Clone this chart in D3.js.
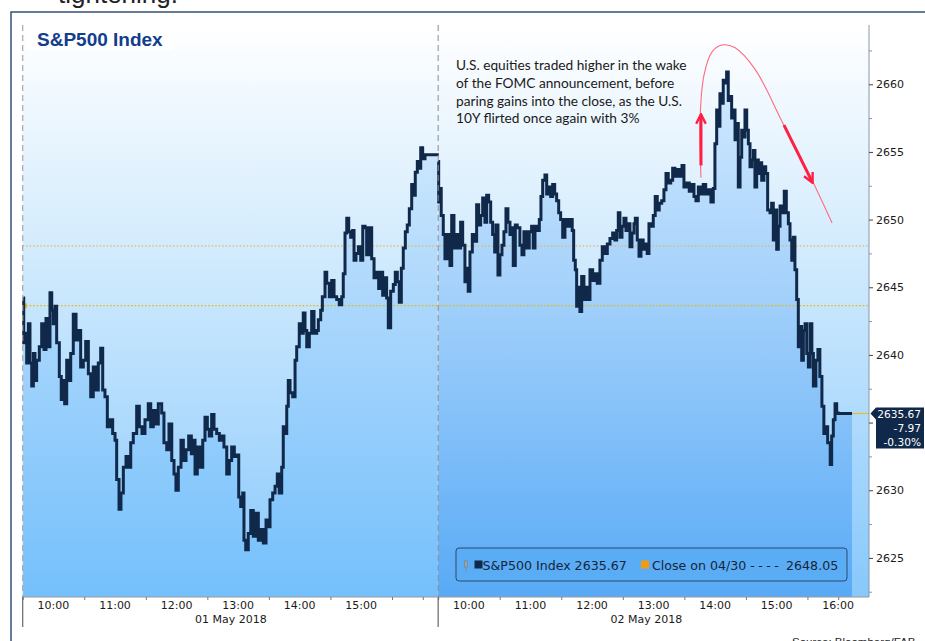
<!DOCTYPE html>
<html>
<head>
<meta charset="utf-8">
<script src="https://cdn.jsdelivr.net/npm/d3@7/dist/d3.min.js"></script>
<style>
  body { margin: 0; background: #fff; }
  svg { display: block; }
</style>
</head>
<body>
<div id="chart"></div>
<script>
// minutes after 09:30, price
const may01 = [[0.6,2644.2],[1,2640.9],[2.2,2641.6],[3.9,2639.4],[5.5,2642.3],[7.1,2639.4],[8.8,2637.7],[10.4,2640.1],[12,2638.1],[13.6,2639.6],[16.2,2640.6],[18.5,2642.3],[20.8,2640.4],[22.7,2642.7],[25,2640.6],[26.6,2644.6],[28.3,2643.3],[29.8,2642.3],[31.5,2643.6],[33.1,2640.9],[35.7,2638.4],[37.6,2636.7],[39.6,2638.1],[40.9,2636.4],[42.9,2639.6],[44.8,2638.1],[46.8,2640.1],[49.3,2643.0],[52,2641.1],[54.2,2641.8],[56.5,2639.1],[59.1,2639.6],[61.4,2641.0],[64,2638.6],[66.3,2636.9],[68.8,2639.1],[71.5,2637.4],[73.7,2639.4],[76,2640.5],[78,2637.4],[80.2,2636.9],[82.5,2634.7],[85.1,2635.2],[87.7,2634.2],[90,2633.7],[91.6,2630.8],[93.9,2628.6],[95.8,2629.8],[98.1,2631.7],[100.7,2632.5],[103.3,2631.7],[105.3,2633.5],[107.8,2634.2],[111.1,2636.2],[113.7,2634.7],[116.3,2634.2],[119.2,2635.2],[122.4,2636.4],[124.8,2634.7],[127.3,2635.9],[129.7,2634.9],[132.2,2636.4],[135.5,2635.7],[137.7,2633.5],[140.4,2633.0],[142.6,2634.9],[145.3,2632.2],[147.5,2631.2],[149.4,2630.0],[151.7,2631.7],[154.3,2633.7],[156.6,2632.2],[159.2,2633.0],[161.8,2634.0],[164.4,2632.7],[166.3,2633.7],[168,2631.2],[170.2,2633.2],[172.8,2631.7],[175.5,2633.7],[177.7,2635.4],[180,2634.5],[181.9,2634.0],[184.2,2635.6],[186.5,2634.5],[189.1,2634.2],[191.7,2633.7],[194,2634.0],[196.2,2633.2],[198.9,2631.2],[201.4,2632.2],[203.7,2633.2],[206.3,2632.5],[208.6,2632.6],[210.6,2629.5],[212.5,2628.8],[214.5,2629.8],[215.7,2626.3],[217.4,2625.6],[219.9,2626.8],[222.3,2628.5],[224.8,2626.6],[227.4,2628.3],[229.7,2626.3],[232,2627.1],[234.6,2626.1],[237.2,2627.8],[239.4,2627.3],[241.1,2629.3],[243.7,2629.8],[246,2630.3],[248.2,2631.2],[250.1,2629.8],[252.5,2631.7],[254,2634.7],[255.7,2634.2],[257.4,2636.2],[258.9,2638.1],[260.6,2637.2],[263.2,2636.9],[265.5,2639.6],[267.1,2640.6],[269.6,2642.3],[272,2641.6],[273.5,2643.1],[275.2,2641.8],[276.9,2640.6],[279.4,2641.6],[281.7,2643.2],[284,2641.6],[286.6,2641.8],[288.2,2642.6],[290.5,2643.3],[292.1,2644.3],[294.7,2646.1],[296.4,2645.3],[298.9,2644.3],[301.2,2645.5],[303.5,2644.3],[306.1,2644.1],[308.6,2643.7],[311,2644.3],[312.5,2646.0],[314.2,2649.0],[315.9,2650.1],[317.8,2649.1],[319.7,2648.7],[321.7,2649.2],[323,2647.0],[324.9,2647.5],[327.2,2648.0],[329.5,2647.0],[331.5,2649.5],[333.7,2649.4],[335.3,2647.4],[337.9,2649.4],[340.2,2647.1],[342.5,2645.7],[345.1,2646.1],[347,2644.9],[349,2646.1],[350.9,2644.4],[353.2,2645.7],[354.8,2644.2],[356.4,2642.0],[358.7,2644.7],[361.3,2645.2],[363.2,2646.1],[365.2,2645.4],[367.1,2643.9],[369.1,2646.4],[371,2647.9],[373,2649.1],[374.9,2649.6],[376.9,2650.8],[379.2,2652.6],[380.8,2651.8],[382.7,2653.5],[384.7,2654.3],[386.6,2653.8],[388,2655.3],[389.9,2654.5],[392.2,2654.8],[404.2,2654.9]];

const may02 = [[0.1,2654.3],[0.5,2651.3],[1.8,2652.3],[3,2650.3],[5,2648.9],[6.6,2647.1],[8.9,2648.9],[11.5,2646.6],[13.2,2650.3],[15.4,2647.9],[18,2648.9],[20,2647.9],[21.9,2649.8],[23.9,2648.1],[26.1,2645.4],[27.8,2646.4],[29.3,2644.7],[31,2647.6],[33.3,2648.9],[35.6,2648.4],[37.5,2651.1],[39.5,2649.6],[41.4,2650.3],[43.4,2651.6],[45.6,2649.8],[47.3,2651.8],[49.2,2651.3],[51.2,2649.8],[53.1,2648.9],[55.1,2647.6],[56.3,2649.6],[58.3,2645.9],[60.2,2647.4],[62.2,2648.1],[64.1,2649.1],[66.1,2650.8],[68,2649.8],[70,2648.9],[71.9,2649.4],[73.2,2646.6],[75.2,2649.6],[77.1,2649.4],[79.7,2648.1],[81.7,2647.4],[83.6,2649.1],[86.3,2647.9],[88.8,2649.1],[91.1,2649.5],[92.7,2647.9],[94.4,2649.5],[96.6,2649.2],[98.6,2650.0],[100.2,2651.7],[101.9,2652.9],[104.1,2653.3],[105.8,2651.9],[107.7,2652.4],[109.7,2651.7],[111.6,2652.6],[113.6,2651.9],[115.5,2651.4],[117.5,2650.5],[119.4,2650.0],[121.4,2648.7],[123.6,2650.0],[125.9,2649.5],[128.5,2650.0],[130.7,2649.2],[132.1,2647.0],[133.7,2646.3],[135,2643.6],[136.6,2645.0],[138.2,2643.2],[139.9,2645.8],[142.1,2644.1],[144.1,2645.0],[146.3,2644.1],[148,2646.3],[150.6,2645.5],[152.8,2646.0],[155.1,2645.3],[157.7,2647.0],[160,2648.0],[162.3,2647.5],[164.9,2648.2],[167.5,2648.6],[170.1,2649.0],[172.3,2648.5],[174,2649.2],[175.6,2650.5],[177.2,2648.7],[179.2,2649.5],[181.1,2650.1],[183.1,2649.2],[185,2649.7],[187,2648.0],[188.9,2649.0],[190.9,2649.7],[192.2,2650.1],[194.1,2648.5],[195.8,2647.3],[197.7,2648.5],[199.9,2647.8],[202.3,2648.2],[203.8,2647.5],[205.5,2649.7],[207.7,2649.5],[209.7,2650.3],[211.6,2651.7],[213.6,2650.7],[215.5,2651.2],[217.9,2651.4],[220.1,2652.2],[222.1,2653.4],[224.3,2652.7],[226.7,2652.9],[228.6,2653.8],[230.8,2653.2],[233.1,2653.7],[235.7,2653.2],[237.7,2654.0],[239.6,2652.4],[242.3,2652.7],[244.8,2652.1],[247.2,2652.6],[249.4,2651.7],[251.3,2651.4],[253.6,2652.4],[256.2,2651.9],[258.4,2652.6],[260.8,2651.9],[263.3,2652.2],[265.9,2651.3],[268.2,2652.3],[269.8,2655.6],[271.5,2658.1],[273,2656.9],[274.7,2659.3],[276.3,2658.6],[277.9,2660.3],[279.6,2660.1],[281.2,2660.9],[282.8,2658.8],[284.5,2659.1],[286.1,2657.5],[287.7,2658.1],[289.4,2655.9],[291,2657.1],[292.6,2652.4],[294.3,2654.6],[295.9,2656.6],[297.5,2656.1],[299.1,2658.1],[300.8,2656.6],[302.4,2655.6],[304,2653.9],[305.7,2654.4],[307.3,2655.1],[308.8,2652.4],[310.5,2654.4],[312.1,2653.4],[313.7,2654.2],[315.4,2652.9],[317.6,2653.9],[319.3,2653.4],[321.2,2650.7],[323.5,2650.5],[325.1,2651.2],[326.7,2648.5],[328.4,2650.7],[330,2647.8],[331.6,2649.5],[333.3,2651.0],[335.4,2650.5],[337.4,2652.1],[339.4,2650.5],[341.4,2649.7],[343,2648.5],[344.7,2647.0],[346.2,2648.7],[347.8,2646.3],[349.5,2644.1],[351.1,2640.6],[352.7,2642.1],[354.4,2639.6],[356,2641.8],[357.7,2642.3],[359.3,2640.1],[360.9,2639.1],[362.6,2642.3],[364.3,2640.1],[365.8,2637.7],[368.2,2639.6],[370.2,2640.4],[372.1,2638.4],[374.1,2636.2],[376,2634.2],[378,2634.7],[379.7,2633.5],[382.2,2631.9],[383.6,2634.0],[385.2,2635.2],[386.9,2636.4],[388.5,2635.7],[390,2635.67],[403.4,2635.67]];

const dayLabels = ["01 May 2018", "02 May 2018"];
const hourLabels01 = ["10:00", "11:00", "12:00", "13:00", "14:00", "15:00"];
const hourLabels02 = ["10:00", "11:00", "12:00", "13:00", "14:00", "15:00", "16:00"];
const yTicks = [2625, 2630, 2635, 2640, 2645, 2650, 2655, 2660];
const lastPrice = 2635.67;
const lastChange = ["-7.97", "-0.30%"];
const prevClose = 2648.05;     // Close on 04/30
const changeBase = 2643.64;    // level the change is measured from
const noteLines = [
  "U.S. equities traded higher in the wake",
  "of the FOMC announcement, before",
  "paring gains into the close, as the U.S.",
  "10Y flirted once again with 3%"
];
// red swoosh over the 02 May peak, in [session minute, price]
const swoosh = [[661.2,2653.1],[660.3,2657.4],[664.2,2660.7],[672,2662.4],[681.8,2662.9],[694.5,2662.7],[714,2661.1],[741.2,2657.1],[769.5,2652.9],[789,2649.75]];

const W = 925, H = 641;
const dayLen = 405; // 09:30 -> 16:15
const pLeft = 22.7, pRight = 869, pTop = 25, pBottom = 597;

const svg = d3.select("#chart").append("svg")
  .attr("width", W).attr("height", H);

const x = d3.scaleLinear().domain([0, 825]).range([pLeft, pRight]);
const y = d3.scaleLinear().domain([2622.11, 2664.38]).range([pBottom, pTop]);

const defs = svg.append("defs");
function grad(id, stops) {
  let g = defs.append("linearGradient").attr("id", id)
    .attr("gradientUnits", "userSpaceOnUse")
    .attr("x1", 0).attr("x2", 0).attr("y1", pTop).attr("y2", pBottom);
  stops.forEach(s => g.append("stop").attr("offset", s[0]).attr("stop-color", s[1]));
}
grad("bg", [[0, "#ffffff"], [0.45, "#cce8fd"], [1, "#88c8fc"]]);
grad("area1", [[0, "#e4f3fe"], [0.45, "#b0d9fc"], [1, "#74c0fc"]]);
grad("area2", [[0, "#dcefff"], [0.45, "#a6d2fb"], [1, "#58aaf6"]]);

// title line of the page, cut by the top edge
svg.append("text").attr("x", 58).attr("y", 3)
  .attr("font-family", "Liberation Sans, Arial, sans-serif")
  .attr("font-size", 26).attr("fill", "#222")
  .text("tightening.");

// outer frame
svg.append("rect").attr("x", 11).attr("y", 12).attr("width", 930).attr("height", 640)
  .attr("fill", "none").attr("stroke", "#34507a").attr("stroke-width", 1.5);

// plot background
svg.append("rect").attr("x", pLeft).attr("y", pTop)
  .attr("width", pRight - pLeft).attr("height", pBottom - pTop)
  .attr("fill", "url(#bg)");

const days = [may01, may02];
days.forEach((data, i) => {
  let pts = data.map(d => [d[0] + i * dayLen, d[1]]);
  let area = d3.area().curve(d3.curveStepAfter)
    .x(d => x(d[0])).y0(pBottom).y1(d => y(d[1]));
  svg.append("path").datum(pts).attr("d", area)
    .attr("fill", "url(#area" + (i + 1) + ")");
});

// reference levels
svg.append("line").attr("x1", pLeft).attr("x2", pRight)
  .attr("y1", y(prevClose)).attr("y2", y(prevClose))
  .attr("stroke", "#eea93a").attr("stroke-width", 1.2).attr("stroke-dasharray", "1.5,2");
svg.append("line").attr("x1", pLeft).attr("x2", pRight)
  .attr("y1", y(changeBase)).attr("y2", y(changeBase))
  .attr("stroke", "#e6b800").attr("stroke-width", 1.4).attr("stroke-dasharray", "1.5,2");
svg.append("path")
  .attr("d", `M${pLeft},${y(changeBase)} l4,-3 v6 z`)
  .attr("fill", "#e6b800");

// last price line to the axis
svg.append("line").attr("x1", x(dayLen + 390)).attr("x2", pRight)
  .attr("y1", y(lastPrice)).attr("y2", y(lastPrice))
  .attr("stroke", "#e8c21a").attr("stroke-width", 1.2);

// price line
days.forEach((data, i) => {
  let pts = data.map(d => [d[0] + i * dayLen, d[1]]);
  let line = d3.line().curve(d3.curveStepAfter)
    .x(d => x(d[0])).y(d => y(d[1]));
  svg.append("path").datum(pts).attr("d", line)
    .attr("fill", "none").attr("stroke", "#10294a")
    .attr("stroke-width", 3).attr("stroke-linejoin", "miter");
});

// dashed session edges
svg.append("line").attr("x1", pLeft).attr("x2", pLeft).attr("y1", pTop).attr("y2", pBottom)
  .attr("stroke", "#a8a8a8").attr("stroke-width", 1.2).attr("stroke-dasharray", "6,4");
svg.append("line").attr("x1", x(dayLen)).attr("x2", x(dayLen)).attr("y1", pTop).attr("y2", pBottom)
  .attr("stroke", "#8a8a8a").attr("stroke-width", 1).attr("stroke-dasharray", "6,4");

// title
svg.append("rect").attr("x", 27).attr("y", 26).attr("width", 146).attr("height", 24).attr("fill", "#fff");
svg.append("text").attr("x", 37).attr("y", 46)
  .attr("font-family", "Liberation Sans, Arial, sans-serif")
  .attr("font-weight", "bold").attr("font-size", 19).attr("fill", "#123e8e")
  .text("S&P500 Index");

// note
svg.append("g").selectAll("text").data(noteLines).enter().append("text")
  .attr("x", 456).attr("y", (d, i) => 70 + i * 17.8)
  .attr("font-family", "Lato, sans-serif").attr("font-size", 13.7).attr("fill", "#1a1a1a")
  .text(d => d);

// red swoosh + arrows
svg.append("path").datum(swoosh)
  .attr("d", d3.line().curve(d3.curveCatmullRom).x(d => x(d[0])).y(d => y(d[1])))
  .attr("fill", "none").attr("stroke", "#ff6b7d").attr("stroke-width", 1.1);
defs.append("marker").attr("id", "head").attr("viewBox", "0 0 10 10")
  .attr("refX", 8).attr("refY", 5).attr("markerWidth", 4).attr("markerHeight", 4)
  .attr("orient", "auto")
  .append("path").attr("d", "M1,1 L9,5 L1,9").attr("fill", "none")
  .attr("stroke", "#ff1f45").attr("stroke-width", 2);
const arrows = [[[661.2, 2654.0], [661.2, 2657.7]], [[742.1, 2656.98], [769.5, 2652.8]]];
arrows.forEach(a => {
  svg.append("line")
    .attr("x1", x(a[0][0])).attr("y1", y(a[0][1]))
    .attr("x2", x(a[1][0])).attr("y2", y(a[1][1]))
    .attr("stroke", "#ff1f45").attr("stroke-width", 3)
    .attr("marker-end", "url(#head)");
});

// x axis
const font = "DejaVu Sans, Verdana, sans-serif";
const xAxisG = svg.append("g").attr("transform", `translate(0,${pBottom})`);
xAxisG.append("line").attr("x1", pLeft).attr("x2", pRight).attr("stroke", "#9a9a9a");
const halfHours = [];
[0, 1].forEach(i => {
  for (let m = 0; m <= 390; m += 60) halfHours.push(i * dayLen + m);
  halfHours.push(i * dayLen + 390);
});
xAxisG.append("g").call(d3.axisBottom(x).tickValues(halfHours).tickSize(3).tickFormat(""))
  .call(a => a.select(".domain").remove())
  .call(a => a.selectAll("line").attr("stroke", "#777"));
const hourTicks = [];
[hourLabels01, hourLabels02].forEach((labels, i) => {
  labels.forEach(l => hourTicks.push({ m: i * dayLen + (+l.slice(0, 2) - 9.5) * 60, l: l }));
});
xAxisG.selectAll(".hl").data(hourTicks).enter().append("text")
  .attr("class", "hl").attr("x", d => x(d.m)).attr("y", 12)
  .attr("text-anchor", "middle").attr("font-family", font).attr("font-size", 11)
  .attr("fill", "#1a1a1a").text(d => d.l);
xAxisG.selectAll(".dl").data(dayLabels).enter().append("text")
  .attr("class", "dl").attr("x", (d, i) => x(i * dayLen + 203)).attr("y", 26)
  .attr("text-anchor", "middle").attr("font-family", font).attr("font-size", 11)
  .attr("fill", "#1a1a1a").text(d => d);
[0, dayLen].forEach(m => {
  xAxisG.append("line").attr("x1", x(m)).attr("x2", x(m)).attr("y1", 0).attr("y2", 30)
    .attr("stroke", "#666").attr("stroke-width", 1.2);
});

// y axis (the label under the last-price tag is hidden, as in the original)
const ly = y(lastPrice);
const yAxisG = svg.append("g").attr("transform", `translate(${pRight},0)`);
yAxisG.call(d3.axisRight(y).tickValues(yTicks).tickSize(4).tickPadding(3)
    .tickFormat(v => Math.abs(y(v) - ly) < 40 && y(v) > ly - 8 ? "" : d3.format("d")(v)))
  .call(g => g.select(".domain").attr("stroke", "#8797ad").attr("d", `M0,${pTop}V${pBottom}`))
  .call(g => g.selectAll(".tick line").attr("stroke", "#444"))
  .call(g => g.selectAll("text").attr("font-family", font).attr("font-size", 11).attr("fill", "#1a1a1a"));
yAxisG.append("g")
  .call(d3.axisRight(y).tickValues(yTicks.map(v => v + 2.5).slice(0, -1).concat([2622.5, 2662.5])).tickSize(3).tickFormat(""))
  .call(g => g.select(".domain").remove())
  .call(g => g.selectAll("line").attr("stroke", "#8797ad"));

// last price tag
svg.append("path")
  .attr("d", `M${pRight + 1.5},${ly} L${pRight + 7},${ly - 6} H924 V${ly + 35} H${pRight + 7} V${ly + 6} Z`)
  .attr("fill", "#10294a");
svg.selectAll(".tag").data([lastPrice.toFixed(2)].concat(lastChange)).enter().append("text")
  .attr("x", 921).attr("y", (d, i) => ly + 4.5 + i * 14.2)
  .attr("text-anchor", "end").attr("font-family", font).attr("font-size", 10.6)
  .attr("fill", "#fff").text(d => d);

// legend
const lg = svg.append("g").attr("transform", "translate(456,548)");
lg.append("rect").attr("width", 391).attr("height", 33).attr("rx", 3)
  .attr("fill", "#5aacf5").attr("stroke", "#2a4a6e");
lg.append("line").attr("x1", 10).attr("x2", 10).attr("y1", 12).attr("y2", 24).attr("stroke", "#8a8a8a");
lg.append("rect").attr("x", 8.5).attr("y", 13).attr("width", 3).attr("height", 6).attr("fill", "#9aa4ad").attr("stroke", "#777").attr("stroke-width", 0.5);
lg.append("rect").attr("x", 18.5).attr("y", 12.5).attr("width", 8).attr("height", 8).attr("fill", "#10294a");
lg.append("text").attr("x", 26.5).attr("y", 22).attr("font-family", font).attr("font-size", 12.6)
  .attr("fill", "#14263c").text("S&P500 Index " + lastPrice.toFixed(2));
lg.append("rect").attr("x", 185).attr("y", 12.5).attr("width", 8).attr("height", 8).attr("fill", "#f39a12");
const lt = lg.append("text").attr("x", 196).attr("y", 22).attr("font-family", font).attr("font-size", 12.6)
  .attr("fill", "#14263c");
lt.append("tspan").text("Close on 04/30 ");
lt.append("tspan").attr("letter-spacing", 3.4).text("----");
lt.append("tspan").text(" " + prevClose.toFixed(2));

// source
svg.append("text").attr("x", 792).attr("y", 646)
  .attr("font-family", "Liberation Sans, Arial, sans-serif").attr("font-size", 11.5)
  .attr("fill", "#222").text("Source: Bloomberg/FAB");
</script>
</body>
</html>
